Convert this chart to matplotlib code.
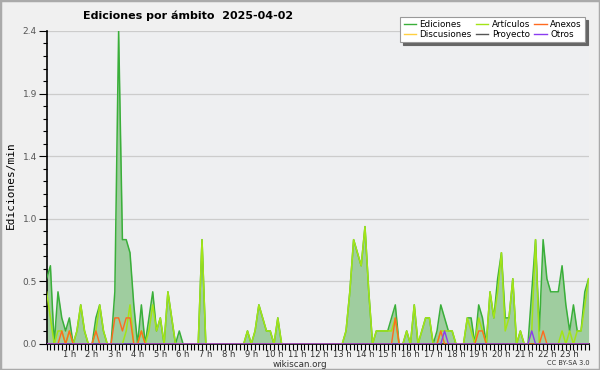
import numpy as np
import matplotlib
matplotlib.use("Agg")
import matplotlib.pyplot as plt
from matplotlib.patches import Rectangle
from matplotlib.lines import Line2D

# 10-minute bins, edits per minute (144 points for the day)
ediciones = [
    0.5, 0.6, 0.0, 0.4, 0.2, 0.1, 0.2, 0.0, 0.1, 0.3, 0.1, 0.0,
    0.0, 0.2, 0.3, 0.1, 0.0, 0.0, 0.4, 2.4, 0.8, 0.8, 0.7, 0.3,
    0.0, 0.3, 0.0, 0.2, 0.4, 0.1, 0.2, 0.0, 0.4, 0.2, 0.0, 0.1,
    0.0, 0.0, 0.0, 0.0, 0.0, 0.8, 0.0, 0.0, 0.0, 0.0, 0.0, 0.0,
    0.0, 0.0, 0.0, 0.0, 0.0, 0.1, 0.0, 0.1, 0.3, 0.2, 0.1, 0.1,
    0.0, 0.2, 0.0, 0.0, 0.0, 0.0, 0.0, 0.0, 0.0, 0.0, 0.0, 0.0,
    0.0, 0.0, 0.0, 0.0, 0.0, 0.0, 0.0, 0.1, 0.4, 0.8, 0.7, 0.6,
    0.9, 0.4, 0.0, 0.1, 0.1, 0.1, 0.1, 0.2, 0.3, 0.0, 0.0, 0.1,
    0.0, 0.3, 0.0, 0.1, 0.2, 0.2, 0.0, 0.1, 0.3, 0.2, 0.1, 0.1,
    0.0, 0.0, 0.0, 0.2, 0.2, 0.0, 0.3, 0.2, 0.0, 0.4, 0.2, 0.5,
    0.7, 0.2, 0.2, 0.5, 0.0, 0.1, 0.0, 0.0, 0.4, 0.8, 0.1, 0.8,
    0.5, 0.4, 0.4, 0.4, 0.6, 0.3, 0.1, 0.3, 0.1, 0.1, 0.4, 0.5,
]
articulos = [
    0.4, 0.2, 0.0, 0.1, 0.1, 0.0, 0.1, 0.0, 0.1, 0.3, 0.1, 0.0,
    0.0, 0.1, 0.3, 0.1, 0.0, 0.0, 0.0, 0.0, 0.0, 0.1, 0.3, 0.0,
    0.0, 0.1, 0.0, 0.1, 0.3, 0.1, 0.2, 0.0, 0.4, 0.2, 0.0, 0.0,
    0.0, 0.0, 0.0, 0.0, 0.0, 0.8, 0.0, 0.0, 0.0, 0.0, 0.0, 0.0,
    0.0, 0.0, 0.0, 0.0, 0.0, 0.1, 0.0, 0.1, 0.3, 0.2, 0.1, 0.1,
    0.0, 0.2, 0.0, 0.0, 0.0, 0.0, 0.0, 0.0, 0.0, 0.0, 0.0, 0.0,
    0.0, 0.0, 0.0, 0.0, 0.0, 0.0, 0.0, 0.1, 0.4, 0.8, 0.7, 0.6,
    0.9, 0.4, 0.0, 0.1, 0.1, 0.1, 0.1, 0.1, 0.2, 0.0, 0.0, 0.1,
    0.0, 0.3, 0.0, 0.1, 0.2, 0.2, 0.0, 0.0, 0.1, 0.1, 0.1, 0.1,
    0.0, 0.0, 0.0, 0.2, 0.1, 0.0, 0.2, 0.1, 0.0, 0.4, 0.2, 0.4,
    0.7, 0.1, 0.2, 0.5, 0.0, 0.1, 0.0, 0.0, 0.1, 0.8, 0.0, 0.0,
    0.0, 0.0, 0.0, 0.0, 0.1, 0.0, 0.1, 0.0, 0.1, 0.1, 0.3, 0.5,
]
anexos = [
    0.0, 0.0, 0.0, 0.0, 0.1, 0.0, 0.1, 0.0, 0.0, 0.0, 0.0, 0.0,
    0.0, 0.1, 0.0, 0.0, 0.0, 0.0, 0.2, 0.2, 0.1, 0.2, 0.2, 0.0,
    0.0, 0.1, 0.0, 0.0, 0.0, 0.0, 0.0, 0.0, 0.0, 0.0, 0.0, 0.0,
    0.0, 0.0, 0.0, 0.0, 0.0, 0.0, 0.0, 0.0, 0.0, 0.0, 0.0, 0.0,
    0.0, 0.0, 0.0, 0.0, 0.0, 0.0, 0.0, 0.0, 0.0, 0.0, 0.0, 0.0,
    0.0, 0.0, 0.0, 0.0, 0.0, 0.0, 0.0, 0.0, 0.0, 0.0, 0.0, 0.0,
    0.0, 0.0, 0.0, 0.0, 0.0, 0.0, 0.0, 0.0, 0.0, 0.0, 0.0, 0.0,
    0.0, 0.0, 0.0, 0.0, 0.0, 0.0, 0.0, 0.0, 0.2, 0.0, 0.0, 0.0,
    0.0, 0.0, 0.0, 0.0, 0.0, 0.0, 0.0, 0.0, 0.1, 0.0, 0.0, 0.0,
    0.0, 0.0, 0.0, 0.0, 0.0, 0.0, 0.1, 0.1, 0.0, 0.0, 0.0, 0.0,
    0.0, 0.0, 0.0, 0.0, 0.0, 0.0, 0.0, 0.0, 0.0, 0.0, 0.0, 0.1,
    0.0, 0.0, 0.0, 0.0, 0.0, 0.0, 0.0, 0.0, 0.0, 0.0, 0.0, 0.0,
]
otros = [0.0] * 144
otros[105] = 0.1
otros[128] = 0.1
discusiones = [0.0] * 144
proyecto = [0.0] * 144

hour_labels = ["%d h" % h for h in range(1, 24)]
ytick_vals = [0.0, 0.48, 0.96, 1.44, 1.92, 2.4]
ytick_labels = ["0.0", "0.5", "1.0", "1.4", "1.9", "2.4"]

c_edit = "#3aaf3a"
c_fill = "#9fcd9f"
c_art = "#a3e417"
c_anx = "#ff6a1f"
c_dis = "#ffd040"
c_pro = "#555555"
c_otr = "#8a3cf0"

plt.rcParams["font.family"] = ["DejaVu Sans"]

fig = plt.figure(figsize=(6, 3.7), dpi=100, facecolor="#f0f0f0")
ax = fig.add_axes([0.0777, 0.0703, 0.9033, 0.846])
ax.set_facecolor("#eeeff1")

x = np.arange(len(ediciones))
ax.fill_between(x, ediciones, color=c_fill, lw=0, zorder=2)
ax.plot(x, ediciones, color=c_edit, lw=1.1, zorder=3)
ax.plot(x, articulos, color=c_art, lw=1.1, zorder=4)
ax.plot(x, discusiones, color=c_dis, lw=1.0, zorder=4)
ax.plot(x, proyecto, color=c_pro, lw=1.0, zorder=4)
ax.plot(x, anexos, color=c_anx, lw=1.0, zorder=5)
ax.plot(x, otros, color=c_otr, lw=1.0, zorder=5)

ax.set_xlim(0, len(ediciones) - 1)
ax.set_ylim(0, 2.4)

ax.set_xticks([6 * h for h in range(1, 24)])
ax.set_xticklabels(hour_labels)
ax.set_xticks(x, minor=True)
ax.tick_params(axis="x", which="both", length=4, width=0.8, color="black",
               labelsize=6, labelcolor="#333333", pad=0)

ax.set_yticks(ytick_vals)
ax.set_yticklabels(ytick_labels)
ax.set_yticks(np.arange(0, 2.41, 0.096), minor=True)
ax.tick_params(axis="y", which="major", length=6, width=0.8, labelsize=6.5,
               labelcolor="#555555", pad=1)
ax.tick_params(axis="y", which="minor", length=3, width=0.8)

ax.yaxis.grid(True, color="#cccccc", lw=0.9)
ax.set_axisbelow(True)
for s in ["top", "right"]:
    ax.spines[s].set_visible(False)
ax.spines["left"].set_linewidth(1.2)
ax.spines["bottom"].set_linewidth(1.2)

fig.text(0.018, 0.5, "Ediciones/min", rotation=90, va="center", ha="center",
         family="DejaVu Sans Mono", fontsize=8)
fig.text(0.313, 0.958, "Ediciones por ámbito  2025-04-02", ha="center",
         va="center", fontsize=8, fontweight="bold")
fig.text(0.5, 0.015, "wikiscan.org", ha="center", va="center",
         fontsize=6.3, color="#333333")
fig.text(0.983, 0.018, "CC BY-SA 3.0", ha="right", va="center",
         fontsize=4.8, color="#333333")

handles = [
    Line2D([], [], color=c_edit, lw=1), Line2D([], [], color=c_dis, lw=1),
    Line2D([], [], color=c_art, lw=1), Line2D([], [], color=c_pro, lw=1),
    Line2D([], [], color=c_anx, lw=1), Line2D([], [], color=c_otr, lw=1),
]
names = ["Ediciones", "Discusiones", "Artículos", "Proyecto", "Anexos", "Otros"]
leg = fig.legend(handles, names, ncol=3, loc="upper right",
                 bbox_to_anchor=(0.982, 0.966), fontsize=6.3,
                 handlelength=1.4, handletextpad=0.4, columnspacing=0.5,
                 labelspacing=0.1, borderpad=0.35, fancybox=False,
                 shadow={"color": "#666666", "alpha": 1.0})
leg.get_frame().set_edgecolor("#999999")
leg.get_frame().set_linewidth(0.8)

fig.patches.append(Rectangle((0, 0), 1, 1, transform=fig.transFigure,
                             fill=False, ec="#aaaaaa", lw=2.5))

fig.savefig("out.png", dpi=100, facecolor=fig.get_facecolor())
